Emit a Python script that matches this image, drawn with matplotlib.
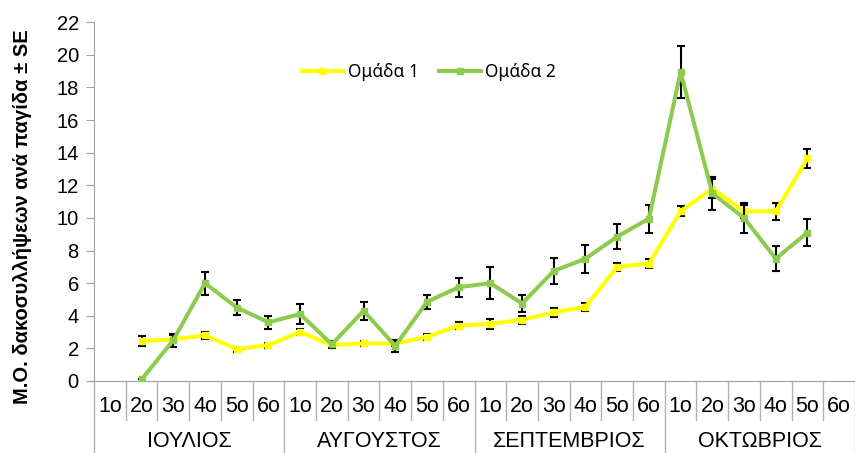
import matplotlib
matplotlib.use("Agg")
import matplotlib.pyplot as plt
from matplotlib.lines import Line2D
import numpy as np

plt.rcParams["font.family"] = ["Liberation Sans", "DejaVu Sans"]

months = ["ΙΟΥΛΙΟΣ", "ΑΥΓΟΥΣΤΟΣ", "ΣΕΠΤΕΜΒΡΙΟΣ", "ΟΚΤΩΒΡΙΟΣ"]
weeks = ["1ο", "2ο", "3ο", "4ο", "5ο", "6ο"]

# values start at 2nd week of July, end at 5th week of October (nan = no sample)
group1 = [np.nan, 2.45, 2.55, 2.8, 1.95, 2.2,
          3.0, 2.2, 2.3, 2.3, 2.7, 3.4,
          3.5, 3.75, 4.2, 4.55, 7.0, 7.2,
          10.4, 11.8, 10.4, 10.4, 13.65, np.nan]
group1_se = [0, 0.3, 0.25, 0.2, 0.15, 0.15,
             0.2, 0.15, 0.15, 0.15, 0.2, 0.2,
             0.3, 0.25, 0.25, 0.25, 0.25, 0.25,
             0.3, 0.6, 0.4, 0.5, 0.6, 0]
group2 = [np.nan, 0.1, 2.5, 6.0, 4.5, 3.6,
          4.1, 2.25, 4.3, 2.15, 4.85, 5.75,
          6.0, 4.75, 6.75, 7.5, 8.85, 9.95,
          18.95, 11.5, 10.0, 7.5, 9.1, np.nan]
group2_se = [0, 0.0, 0.4, 0.7, 0.45, 0.4,
             0.6, 0.2, 0.55, 0.35, 0.45, 0.58,
             1.0, 0.55, 0.8, 0.85, 0.78, 0.87,
             1.6, 1.0, 0.9, 0.77, 0.85, 0]

n = len(months) * len(weeks)
x = np.arange(n)

fig = plt.figure(figsize=(8.55, 4.53), dpi=100)
ax = fig.add_axes([0.110, 0.159, 0.890, 0.792])

yellow = "#FFFF00"
green = "#8CCB4E"

ax.errorbar(x, group1, yerr=group1_se, color=yellow, lw=2.9, marker="s", ms=5,
            ecolor="black", elinewidth=1.5, capsize=2.8, capthick=1.5, zorder=3)
ax.errorbar(x, group2, yerr=group2_se, color=green, lw=2.9, marker="s", ms=5,
            ecolor="black", elinewidth=1.5, capsize=2.8, capthick=1.5, zorder=4)

ax.set_xlim(-0.5, n - 0.5)
ax.set_ylim(0, 22)
ax.set_yticks(range(0, 23, 2))
ax.tick_params(axis="y", labelsize=14.5, color="#A0A0A0", length=6, direction="out", pad=5)
ax.set_xticks([])

for s in ["top", "right"]:
    ax.spines[s].set_visible(False)
for s in ["left", "bottom"]:
    ax.spines[s].set_color("#A0A0A0")

ax.set_ylabel("Μ.Ο. δακοσυλλήψεων ανά παγίδα ± SE", fontsize=14.5, fontweight="bold")
ax.yaxis.set_label_coords(-0.082, 0.457)

# two-level category axis
trans = ax.get_xaxis_transform()
for i in range(n + 1):
    if i % len(weeks) == 0:
        y_end = -0.2
    else:
        y_end = -0.109
    ax.plot([i - 0.5, i - 0.5], [0, y_end], color="#B0B0B0", lw=1, transform=trans, clip_on=False)
for i in range(n):
    ax.text(x[i], -0.072, weeks[i % len(weeks)], transform=trans, ha="center", va="center",
            fontsize=15.5)
for m, name in enumerate(months):
    ax.text(m * len(weeks) + 2.5, -0.168, name, transform=trans, ha="center", va="center", fontsize=15.5)

handles = [Line2D([], [], color=yellow, lw=2.9, marker="s", ms=5),
           Line2D([], [], color=green, lw=2.9, marker="s", ms=5)]
ax.legend(handles, ["Ομάδα 1", "Ομάδα 2"], loc="center", bbox_to_anchor=(0.44, 0.861), ncol=2,
          frameon=False, prop={"family": "Noto Sans", "size": 12.5},
          handlelength=2.4, handletextpad=0.25, columnspacing=1.2)

fig.savefig("out.png", dpi=100)
